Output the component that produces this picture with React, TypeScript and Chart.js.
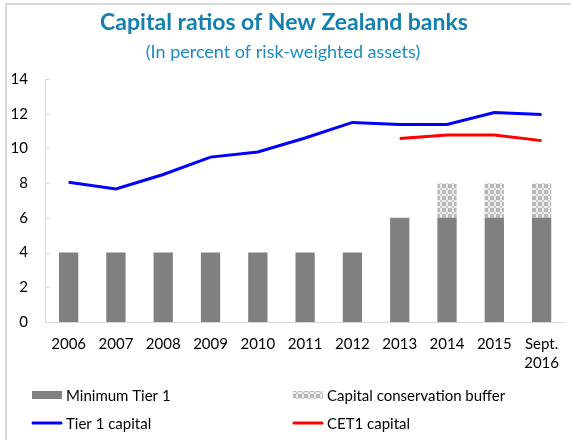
import React, { useEffect, useRef } from "react";
import { Chart, registerables } from "chart.js";

Chart.register(...registerables);

const titleText = "Capital ratios of New Zealand banks";
const subtitleText = "(In percent of risk-weighted assets)";

const categories: (string | string[])[] = [
  "2006", "2007", "2008", "2009", "2010", "2011", "2012", "2013", "2014", "2015", ["Sept.", "2016"],
];
const minimumTier1 = [4, 4, 4, 4, 4, 4, 4, 6, 6, 6, 6];
const conservationBuffer = [null, null, null, null, null, null, null, null, 2, 2, 2];
const tier1Capital = [8.05, 7.67, 8.5, 9.5, 9.8, 10.6, 11.5, 11.38, 11.38, 12.07, 11.95];
const cet1Capital = [null, null, null, null, null, null, null, 10.57, 10.78, 10.78, 10.45];
const yTicks = [0, 2, 4, 6, 8, 10, 12, 14];

const FONT = "Lato, 'Open Sans', sans-serif";
const TITLE_COLOR = "#1380b0";
const AXIS_COLOR = "#d9d9d9";

function makePattern(): CanvasPattern | string {
  const c = document.createElement("canvas");
  c.width = 6;
  c.height = 6;
  const g = c.getContext("2d");
  if (!g) return "#cccccc";
  g.fillStyle = "#b8b8b8";
  g.fillRect(0, 0, 6, 6);
  g.fillStyle = "#ececec";
  g.fillRect(2, 0, 2, 6);
  g.fillRect(0, 2, 6, 2);
  g.fillStyle = "#c8c8c8";
  g.fillRect(2, 2, 2, 2);
  const p = g.createPattern(c, "repeat");
  return p || "#cccccc";
}

const decorPlugin = {
  id: "decor",
  afterDraw(chart: any) {
    const ctx: CanvasRenderingContext2D = chart.ctx;
    ctx.save();
    // title & subtitle
    ctx.textAlign = "center";
    ctx.textBaseline = "alphabetic";
    ctx.fillStyle = TITLE_COLOR;
    ctx.font = `bold 23px ${FONT}`;
    ctx.fillText(titleText, 284, 30);
    ctx.fillStyle = "#1a8cc0";
    ctx.font = `18px ${FONT}`;
    ctx.fillText(subtitleText, 283, 58);

    // inside tick marks on y axis
    const ys = chart.scales.y;
    const left = chart.chartArea.left;
    ctx.strokeStyle = AXIS_COLOR;
    ctx.lineWidth = 1;
    ys.ticks.forEach((_t: any, i: number) => {
      const py = Math.round(ys.getPixelForTick(i)) + 0.5;
      ctx.beginPath();
      ctx.moveTo(left, py);
      ctx.lineTo(left + 5, py);
      ctx.stroke();
    });

    // legend
    const ds = chart.data.datasets;
    const items = [
      { d: ds.find((x: any) => x.label === "Minimum Tier 1"), col: 0, row: 0 },
      { d: ds.find((x: any) => x.label === "Capital conservation buffer"), col: 1, row: 0 },
      { d: ds.find((x: any) => x.label === "Tier 1 capital"), col: 0, row: 1 },
      { d: ds.find((x: any) => x.label === "CET1 capital"), col: 1, row: 1 },
    ];
    const colX = [32, 293];
    const rowY = [395, 423];
    ctx.font = `15px ${FONT}`;
    ctx.textAlign = "left";
    ctx.textBaseline = "middle";
    items.forEach((it) => {
      if (!it.d) return;
      const x = colX[it.col];
      const y = rowY[it.row];
      if (it.d.type === "line") {
        ctx.strokeStyle = it.d.borderColor;
        ctx.lineWidth = 3;
        ctx.lineCap = "round";
        ctx.beginPath();
        ctx.moveTo(x + 1, y);
        ctx.lineTo(x + 29, y);
        ctx.stroke();
      } else {
        ctx.fillStyle = it.d.backgroundColor;
        ctx.fillRect(x, y - 4, 30, 8);
      }
      ctx.fillStyle = "#000000";
      ctx.fillText(it.d.label, x + 34, y + 1);
    });
    ctx.restore();
  },
};

export default function App() {
  const ref = useRef<HTMLCanvasElement | null>(null);

  useEffect(() => {
    document.body.style.margin = "0";
    if (!ref.current) return;
    const pattern = makePattern();
    const chart = new Chart(ref.current, {
      type: "bar",
      data: {
        labels: categories as any,
        datasets: [
          {
            type: "line",
            label: "Tier 1 capital",
            data: tier1Capital,
            borderColor: "#0000ff",
            backgroundColor: "#0000ff",
            borderWidth: 3,
            pointRadius: 0,
            tension: 0,
            stack: "tier1",
            order: 0,
          } as any,
          {
            type: "line",
            label: "CET1 capital",
            data: cet1Capital,
            borderColor: "#ff0000",
            backgroundColor: "#ff0000",
            borderWidth: 3,
            pointRadius: 0,
            tension: 0,
            stack: "cet1",
            order: 0,
          } as any,
          {
            type: "bar",
            label: "Minimum Tier 1",
            data: minimumTier1,
            backgroundColor: "#808080",
            stack: "bars",
            barPercentage: 0.51,
            categoryPercentage: 0.8,
            order: 1,
          } as any,
          {
            type: "bar",
            label: "Capital conservation buffer",
            data: conservationBuffer,
            backgroundColor: pattern,
            stack: "bars",
            barPercentage: 0.51,
            categoryPercentage: 0.8,
            order: 1,
          } as any,
        ],
      },
      options: {
        responsive: false,
        animation: false,
        layout: { padding: { top: 79, left: 0, right: 0, bottom: 58 } },
        plugins: {
          legend: { display: false },
          title: { display: false },
          tooltip: { enabled: false },
        },
        scales: {
          x: {
            stacked: true,
            grid: { display: false, drawTicks: false },
            border: { display: true, color: AXIS_COLOR, width: 1 },
            ticks: {
              color: "#000000",
              font: { family: FONT, size: 15, lineHeight: 1.3 },
              padding: 12,
              maxRotation: 0,
              autoSkip: false,
            },
            afterFit: (s: any) => {
              s.height = 60;
            },
          },
          y: {
            stacked: true,
            min: 0,
            max: 14,
            grid: { display: false, drawTicks: false },
            border: { display: true, color: AXIS_COLOR, width: 1 },
            afterBuildTicks: (s: any) => {
              s.ticks = yTicks.map((v) => ({ value: v }));
            },
            ticks: {
              color: "#000000",
              font: { family: FONT, size: 15 },
              padding: 17,
            },
            afterFit: (s: any) => {
              s.width = 45;
            },
          },
        },
      },
      plugins: [decorPlugin],
    });
    return () => chart.destroy();
  }, []);

  return (
    <div style={{ position: "absolute", left: 0, top: 0, width: 571, height: 440, background: "#ffffff" }}>
      <div
        style={{
          position: "absolute",
          left: 5,
          top: 3,
          right: 0,
          bottom: 0,
          borderTop: "2px solid #d9d9d9",
          borderLeft: "2px solid #d9d9d9",
          pointerEvents: "none",
        }}
      />
      <canvas ref={ref} width={571} height={440} style={{ position: "absolute", left: 0, top: 0 }} />
    </div>
  );
}
